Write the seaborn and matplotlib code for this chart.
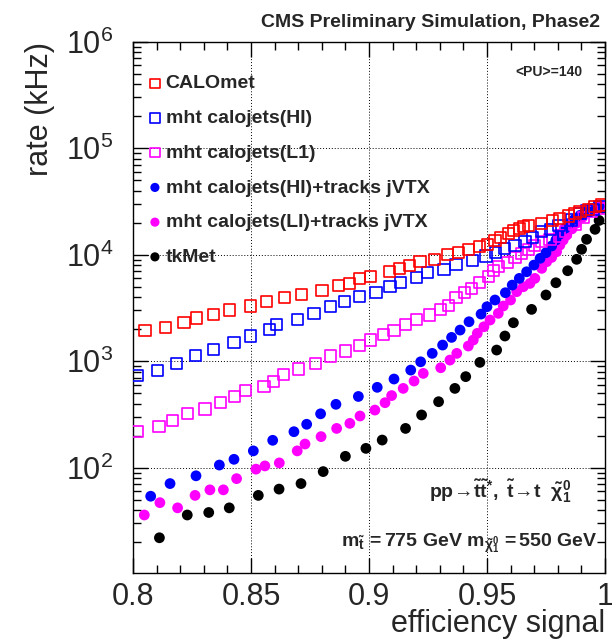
import matplotlib
matplotlib.use("Agg")
import matplotlib.pyplot as plt
import pandas as pd
import seaborn as sns
from matplotlib.ticker import MultipleLocator, LogLocator

sns.set_style("ticks")
plt.rcParams["font.family"] = ["Liberation Sans", "DejaVu Sans"]
plt.rcParams["mathtext.fontset"] = "custom"
plt.rcParams["mathtext.rm"] = "Liberation Sans"
plt.rcParams["mathtext.it"] = "Liberation Sans:italic"
plt.rcParams["mathtext.bf"] = "Liberation Sans:bold"
plt.rcParams["mathtext.sf"] = "Liberation Sans"

# Trigger rate (kHz) versus signal efficiency for each MET/MHT algorithm
calomet_eff = [0.8051, 0.8136, 0.8216, 0.8270, 0.8343, 0.8408, 0.8499, 0.8566, 0.8641, 0.8715,
               0.8801, 0.8872, 0.8917, 0.8959, 0.9007, 0.9086, 0.9131, 0.9171, 0.9216, 0.9278,
               0.9332, 0.9379, 0.9421, 0.9470, 0.9502, 0.9534, 0.9558, 0.9590, 0.9612, 0.9637,
               0.9654, 0.9675, 0.9732, 0.9778, 0.9809, 0.9845, 0.9873, 0.9894, 0.9929, 0.9958,
               0.9986]
calomet_rate = [1940, 2090, 2320, 2550, 2760, 3030, 3300, 3620, 3950, 4250,
                4660, 5120, 5420, 6000, 6310, 6920, 7450, 8000, 8600, 9090,
                10090, 10450, 11240, 11890, 12600, 13730, 14600, 15900, 16800, 17700,
                18600, 19000, 19700, 20900, 22000, 23100, 24500, 25400, 26700, 28200,
                29300]

hi_eff = [0.8018, 0.8105, 0.8185, 0.8264, 0.8343, 0.8428, 0.8499, 0.8578, 0.8609, 0.8696,
          0.8767, 0.8838, 0.8895, 0.8959, 0.9030, 0.9089, 0.9134, 0.9202, 0.9249, 0.9318,
          0.9369, 0.9439, 0.9496, 0.9538, 0.9576, 0.9619, 0.9661, 0.9693, 0.9732, 0.9770,
          0.9805, 0.9859, 0.9894, 0.9922, 0.9951, 0.9979]
hi_rate = [731, 826, 955, 1127, 1283, 1493, 1726, 1995, 2224, 2474,
           2818, 3251, 3673, 4036, 4395, 5010, 5510, 6140, 6780, 7290,
           8180, 8790, 9730, 10520, 11480, 12330, 13250, 14600, 16680, 17300,
           19000, 21200, 24470, 25900, 26700, 28240]

l1_eff = [0.8018, 0.8110, 0.8167, 0.8232, 0.8305, 0.8372, 0.8432, 0.8475, 0.8555, 0.8595,
          0.8637, 0.8703, 0.8775, 0.8838, 0.8901, 0.8959, 0.9007, 0.9061, 0.9106, 0.9155,
          0.9202, 0.9258, 0.9304, 0.9336, 0.9369, 0.9403, 0.9435, 0.9467, 0.9506, 0.9527,
          0.9548, 0.9586, 0.9619, 0.9647, 0.9675, 0.9703, 0.9732, 0.9767, 0.9809, 0.9831,
          0.9873, 0.9908, 0.9944, 0.9979]
l1_rate = [218, 246, 276, 321, 356, 408, 464, 528, 576, 642,
           758, 845, 955, 1119, 1247, 1400, 1582, 1787, 1963, 2233,
           2473, 2716, 3070, 3370, 3980, 4400, 4830, 5460, 6310, 7080,
           7830, 8410, 9440, 10300, 11250, 12330, 13250, 14000, 15000, 16440,
           19400, 22400, 25370, 27300]

hitrk_eff = [0.8075, 0.8157, 0.8267, 0.8366, 0.8428, 0.8510, 0.8592, 0.8682, 0.8736, 0.8795,
             0.8860, 0.8955, 0.9035, 0.9106, 0.9177, 0.9219, 0.9268, 0.9312, 0.9350, 0.9386,
             0.9424, 0.9475, 0.9500, 0.9534, 0.9578, 0.9607, 0.9637, 0.9668, 0.9699, 0.9725,
             0.9750, 0.9774, 0.9792, 0.9809, 0.9831, 0.9848, 0.9870, 0.9895, 0.9920, 0.9948,
             0.9975]
hitrk_rate = [54, 71, 84, 106, 120, 144, 181, 218, 256, 321,
              394, 467, 569, 681, 826, 988, 1186, 1419, 1675, 1963,
              2350, 2774, 3250, 3760, 4400, 5190, 6000, 6920, 8000, 9250,
              10450, 12080, 13740, 15640, 17700, 19700, 21500, 23500, 25500, 27300,
              28500]

litrk_eff = [0.8048, 0.8114, 0.8189, 0.8263, 0.8326, 0.8383, 0.8439, 0.8521, 0.8559, 0.8620,
             0.8696, 0.8729, 0.8797, 0.8863, 0.8919, 0.8962, 0.9025, 0.9068, 0.9096, 0.9145,
             0.9191, 0.9230, 0.9304, 0.9343, 0.9372, 0.9421, 0.9442, 0.9459, 0.9487, 0.9513,
             0.9548, 0.9569, 0.9600, 0.9626, 0.9654, 0.9682, 0.9703, 0.9732, 0.9753, 0.9774,
             0.9795, 0.9809, 0.9823, 0.9838, 0.9860, 0.9880, 0.9905, 0.9930, 0.9960, 0.9985]
litrk_rate = [36, 47, 42, 55, 62, 62, 79, 97, 104, 111,
              144, 167, 196, 234, 261, 306, 348, 408, 476, 556,
              652, 769, 869, 1026, 1186, 1390, 1582, 1828, 2108, 2438,
              2818, 3300, 3760, 4500, 5010, 5380, 6000, 7450, 8600, 9440,
              10670, 12330, 13740, 15310, 17500, 19800, 22500, 25000, 27500, 29000]

tkmet_eff = [0.8112, 0.8230, 0.8321, 0.8408, 0.8531, 0.8619, 0.8712, 0.8806, 0.8900, 0.8987,
             0.9056, 0.9155, 0.9223, 0.9295, 0.9364, 0.9410, 0.9470, 0.9541, 0.9576, 0.9612,
             0.9689, 0.9750, 0.9792, 0.9842, 0.9880, 0.9901, 0.9922, 0.9958, 0.9975, 0.9993]
tkmet_rate = [22, 36, 38, 42, 55, 63, 71, 92, 128, 152,
              182, 234, 313, 417, 556, 717, 976, 1274, 1726, 2300,
              3070, 4190, 5460, 7080, 9060, 11250, 13970, 17330, 21000, 27300]

labels = ["CALOmet", "mht calojets(HI)", "mht calojets(L1)",
          "mht calojets(HI)+tracks jVTX", "mht calojets(LI)+tracks jVTX", "tkMet"]
colors = ["#ff0000", "#0000ff", "#ff00ff", "#0000ff", "#ff00ff", "#000000"]
hollow = [True, True, True, False, False, False]
effs = [calomet_eff, hi_eff, l1_eff, hitrk_eff, litrk_eff, tkmet_eff]
rates = [calomet_rate, hi_rate, l1_rate, hitrk_rate, litrk_rate, tkmet_rate]

fig = plt.figure(figsize=(6.12, 6.39), dpi=100)
ax = fig.add_axes([0.2173, 0.1028, 0.7712, 0.8318])
ax.set_yscale("log")

# draw in reverse so the calorimeter MET sits on top at the converging end
for i in reversed(range(len(labels))):
    df = pd.DataFrame({"efficiency": effs[i], "rate": rates[i]})
    if hollow[i]:
        sns.scatterplot(data=df, x="efficiency", y="rate", ax=ax, marker="s", s=64,
                        color=colors[i], facecolors="none", edgecolor=colors[i],
                        linewidth=1.2, label=labels[i], legend=False, zorder=3)
    else:
        sns.scatterplot(data=df, x="efficiency", y="rate", ax=ax, marker="o", s=60,
                        color=colors[i], edgecolor="none", linewidth=0,
                        label=labels[i], legend=False, zorder=3)

ax.set_xlim(0.8, 1.0)
ax.set_ylim(10.2, 1e6)
ax.set_xticks([0.8, 0.85, 0.9, 0.95, 1.0])
ax.set_xticklabels(["0.8", "0.85", "0.9", "0.95", "1"])
ax.xaxis.set_minor_locator(MultipleLocator(0.01))
ax.yaxis.set_major_locator(LogLocator(base=10, numticks=10))
ax.yaxis.set_minor_locator(LogLocator(base=10, subs=range(2, 10), numticks=20))

ax.grid(which="major", color="black", linestyle=(0, (1, 2)), linewidth=0.7)
ax.tick_params(which="both", direction="in", top=True, right=True, width=1, color="black")
ax.tick_params(which="major", length=11, labelsize=22)
ax.tick_params(which="minor", length=6)
ax.tick_params(axis="x", which="major", pad=6)
ax.tick_params(axis="y", which="major", pad=14)
for sp in ax.spines.values():
    sp.set_linewidth(1.0)
    sp.set_color("black")

ax.set_xlabel("efficiency signal", fontsize=22, loc="right")
ax.set_ylabel("rate (kHz)", fontsize=22, loc="top")
ax.xaxis.set_label_coords(1.0, -0.068)
ax.yaxis.set_label_coords(-0.165, 1.0)

handles, labs = ax.get_legend_handles_labels()
order = [labs.index(l) for l in labels]
ax.legend([handles[k] for k in order], [labs[k] for k in order],
          loc="upper left", bbox_to_anchor=(0.030, 0.938), frameon=False,
          prop={"weight": "bold", "size": 14}, handlelength=0.8, handletextpad=0.15,
          labelspacing=0.88, borderpad=0, borderaxespad=0, markerscale=0.85)

fig.text(600 / 612, 1 - 27 / 639, "CMS Preliminary Simulation, Phase2",
         ha="right", va="baseline", fontsize=14, fontweight="bold")
ax.text(0.953, 0.943, "<PU>=140", transform=ax.transAxes, ha="right", va="center",
        fontsize=10, fontweight="bold")
ax.text(0.93, 0.1417,
        r"$\mathbf{pp}\!\rightarrow\!\mathbf{\tilde{t}\tilde{t}^{*},\ \tilde{t}}\!\rightarrow\!\mathbf{t\ \ \tilde{\chi}^{0}_{1}}$",
        transform=ax.transAxes, ha="right", va="baseline", fontsize=14)
ax.text(0.985, 0.050,
        r"$\mathbf{m_{\tilde{t}}\,=775\ GeV\ m_{\tilde{\chi}^{0}_{1}}\,=550\ GeV}$",
        transform=ax.transAxes, ha="right", va="baseline", fontsize=14)

fig.savefig("out.png", dpi=100)
